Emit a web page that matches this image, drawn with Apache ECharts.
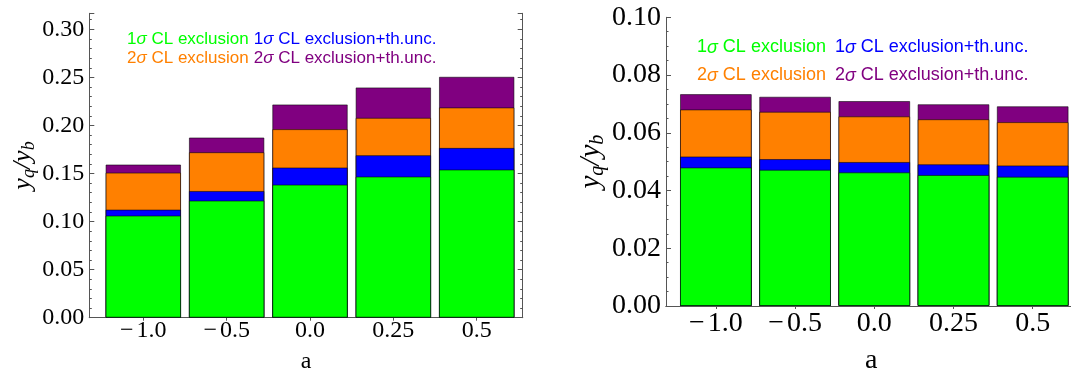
<!DOCTYPE html>
<html><head><meta charset="utf-8">
<script src="https://cdn.jsdelivr.net/npm/echarts@6/dist/echarts.min.js"></script>
<style>html,body{margin:0;padding:0;background:#fff}#c{width:1071px;height:371px}</style>
</head><body><div id="c"></div>
<script>
const categories = ['\u22121.0', '\u22120.5', '0.0', '0.25', '0.5'];
const seriesNames = ['1σ CL exclusion', '1σ CL exclusion+th.unc.', '2σ CL exclusion', '2σ CL exclusion+th.unc.'];
const seriesColors = ['#00ff00', '#0000ff', '#ff8000', '#800080'];

const leftOneSigma    = [0.1063, 0.1219, 0.1385, 0.1469, 0.1542];
const leftOneSigmaTh  = [0.1125, 0.1319, 0.1563, 0.1691, 0.1767];
const leftTwoSigma    = [0.1510, 0.1722, 0.1962, 0.2080, 0.2188];
const leftTwoSigmaTh  = [0.1594, 0.1875, 0.2219, 0.2396, 0.2507];

const rightOneSigma   = [0.0480, 0.0472, 0.0463, 0.0454, 0.0448];
const rightOneSigmaTh = [0.0518, 0.0509, 0.0499, 0.0491, 0.0487];
const rightTwoSigma   = [0.0681, 0.0673, 0.0657, 0.0647, 0.0637];
const rightTwoSigmaTh = [0.0734, 0.0725, 0.0710, 0.0699, 0.0692];

const leftYTicks  = [0.00, 0.05, 0.10, 0.15, 0.20, 0.25, 0.30];
const rightYTicks = [0.00, 0.02, 0.04, 0.06, 0.08, 0.10];

const catPositions = categories.map((c, i) => i + 1);
const frameColor = '#555';
const serif = 'Liberation Serif';
const sans = 'Liberation Sans';

function catLabel(v) {
  const s = categories[Math.round(v) - 1] || '';
  return s.replace('\u2212', '{m|\u2212}');
}

function xAxes(grid, min, max, fontSize, margin, nameGap) {
  return [{
    gridIndex: grid, type: 'value', position: 'bottom', min: min, max: max,
    axisLine: { show: true, lineStyle: { color: frameColor, width: 1 } },
    axisTick: { show: true, inside: true, length: 3, customValues: catPositions, lineStyle: { color: frameColor } },
    axisLabel: {
      customValues: catPositions, formatter: catLabel, fontFamily: serif, fontSize: fontSize, color: '#000', margin: margin,
      rich: { m: { fontFamily: serif, fontSize: fontSize, color: '#000', padding: [0, Math.round(fontSize * 0.12), 0, 0] } }
    },
    splitLine: { show: false },
    name: 'a', nameLocation: 'middle', nameGap: nameGap,
    nameTextStyle: { fontFamily: serif, fontSize: fontSize, color: '#000' }
  }, {
    gridIndex: grid, type: 'value', position: 'top', min: min, max: max,
    axisLine: { show: true, lineStyle: { color: frameColor, width: 1 } },
    axisTick: { show: true, inside: true, length: 3, customValues: catPositions, lineStyle: { color: frameColor } },
    axisLabel: { show: false }, splitLine: { show: false }
  }];
}

function yAxes(grid, max, interval, minorSplit, ticks, fontSize, nameGap, nameSize) {
  const common = {
    gridIndex: grid, type: 'value', min: 0, max: max, interval: interval,
    axisLine: { show: true, lineStyle: { color: frameColor, width: 1 } },
    axisTick: { show: true, inside: true, length: 5, lineStyle: { color: frameColor } },
    minorTick: { show: true, splitNumber: minorSplit, length: 2.5, lineStyle: { color: frameColor } },
    splitLine: { show: false }
  };
  const subShift = Math.round(nameSize * 0.45);
  return [Object.assign({}, common, {
    position: 'left',
    axisLabel: { customValues: ticks, formatter: v => v.toFixed(2), fontFamily: serif, fontSize: fontSize, color: '#000', margin: 5 },
    name: '{i|y}{s|q}{i|/y}{s|b}', nameLocation: 'middle', nameGap: nameGap,
    nameTextStyle: {
      color: '#000',
      rich: {
        i: { fontFamily: serif, fontStyle: 'italic', fontSize: nameSize, color: '#000' },
        s: { fontFamily: serif, fontStyle: 'italic', fontSize: Math.round(nameSize * 0.7), color: '#000', padding: [subShift, 0, 0, 0] }
      }
    }
  }), Object.assign({}, common, {
    position: 'right', axisLabel: { show: false }
  })];
}

function barSeries(grid, values, width) {
  // draw the tallest first so smaller bars sit in front
  const order = [3, 2, 1, 0];
  return order.map(k => ({
    name: seriesNames[k], type: 'bar',
    xAxisIndex: grid * 2, yAxisIndex: grid * 2,
    barWidth: width, barGap: '-100%',
    itemStyle: { color: seriesColors[k], borderColor: 'rgba(0,0,0,0.55)', borderWidth: 1 },
    data: values[k].map((v, i) => [catPositions[i], v]),
    animation: false
  }));
}

function legendRow(names, left, top, fontSize, gap) {
  return {
    left: left, top: top, orient: 'horizontal', padding: 0,
    icon: 'none', itemWidth: 0, itemHeight: 10, itemGap: gap,
    selectedMode: false,
    formatter: n => n.replace('σ', '{s|σ}'),
    textStyle: { fontFamily: sans, fontSize: fontSize, lineHeight: fontSize + 3,
      rich: { s: { fontFamily: sans, fontStyle: 'italic', fontSize: fontSize } } },
    data: names.map(n => ({ name: n, textStyle: { color: seriesColors[seriesNames.indexOf(n)] } }))
  };
}

const chart = echarts.init(document.getElementById('c'), null, { renderer: 'canvas' });
chart.setOption({
  animation: false,
  backgroundColor: '#fff',
  grid: [
    { left: 89.3, top: 13.3, width: 433.4, height: 304.4, outerBoundsMode: 'none', containLabel: false },
    { left: 666, top: 17.3, width: 410.4, height: 288.7, outerBoundsMode: 'none', containLabel: false }
  ],
  xAxis: [].concat(xAxes(0, 0.352, 5.552, 24, 1.5, 32), xAxes(1, 0.37, 5.552, 28, 4, 41)),
  yAxis: [].concat(
    yAxes(0, 0.3167, 0.05, 5, leftYTicks, 24, 50, 26),
    yAxes(1, 0.10, 0.02, 4, rightYTicks, 28, 56, 29)
  ),
  legend: [
    legendRow([seriesNames[0], seriesNames[1]], 122, 29, 17, 0),
    legendRow([seriesNames[2], seriesNames[3]], 122, 48, 17, 0),
    legendRow([seriesNames[0], seriesNames[1]], 692, 37, 18, 4),
    legendRow([seriesNames[2], seriesNames[3]], 692, 65, 18, 4)
  ],
  series: [].concat(
    barSeries(0, [leftOneSigma, leftOneSigmaTh, leftTwoSigma, leftTwoSigmaTh], 75.5),
    barSeries(1, [rightOneSigma, rightOneSigmaTh, rightTwoSigma, rightTwoSigmaTh], 71.8)
  )
});
</script></body></html>
